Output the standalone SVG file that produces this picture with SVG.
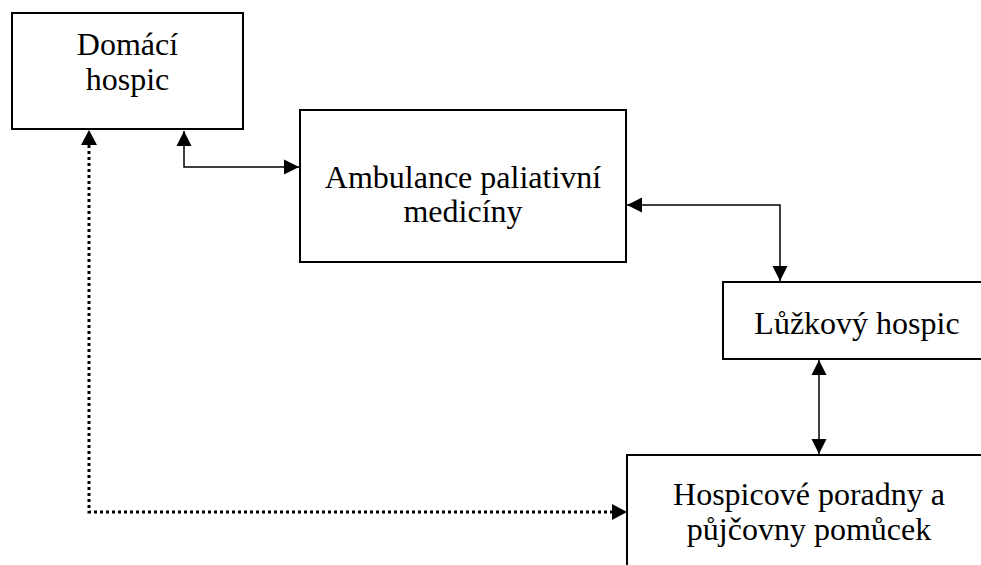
<svg xmlns="http://www.w3.org/2000/svg" width="981" height="565" viewBox="0 0 981 565">
<defs>
<marker id="ah" markerUnits="userSpaceOnUse" markerWidth="16" markerHeight="16" refX="15" refY="8" orient="auto-start-reverse">
<path d="M0,0.5 L15,8 L0,15.5 z" fill="#000"/>
</marker>
</defs>
<style>
.box{fill:#fff;stroke:#000;stroke-width:2}
.t{font-family:"Liberation Serif","Times New Roman",serif;font-size:32px;fill:#000;text-anchor:middle}
.c{fill:none;stroke:#000;stroke-width:1.5}
.d{fill:none;stroke:#000;stroke-width:3;stroke-dasharray:3 3}
</style>
<rect width="981" height="565" fill="#fff"/>
<g id="connectors">
<path class="c" d="M184,131 V167 H299" marker-start="url(#ah)" marker-end="url(#ah)"/>
<path class="c" d="M627,205 H780 V281" marker-start="url(#ah)" marker-end="url(#ah)"/>
<path class="c" d="M819,360 V454" marker-start="url(#ah)" marker-end="url(#ah)"/>
<path class="d" d="M89,145 V512 H614"/>
<path d="M81,145 L89,130 L97,145 z" fill="#000"/>
<path d="M612,504 L627,512 L612,520 z" fill="#000"/>
</g>
<g id="node-domaci">
<rect class="box" x="12" y="13" width="231" height="116"/>
<text class="t" x="127.5" y="55">Domácí</text>
<text class="t" x="127.5" y="90">hospic</text>
</g>
<g id="node-ambulance">
<rect class="box" x="300" y="110" width="326" height="152"/>
<text class="t" x="463" y="188">Ambulance paliativní</text>
<text class="t" x="463" y="222">medicíny</text>
</g>
<g id="node-luzkovy">
<rect class="box" x="723" y="282" width="280" height="77"/>
<text class="t" x="857" y="334">Lůžkový hospic</text>
</g>
<g id="node-poradny">
<rect class="box" x="627" y="455" width="380" height="130"/>
<text class="t" x="809" y="505">Hospicové poradny a</text>
<text class="t" x="809" y="540">půjčovny pomůcek</text>
</g>
</svg>
